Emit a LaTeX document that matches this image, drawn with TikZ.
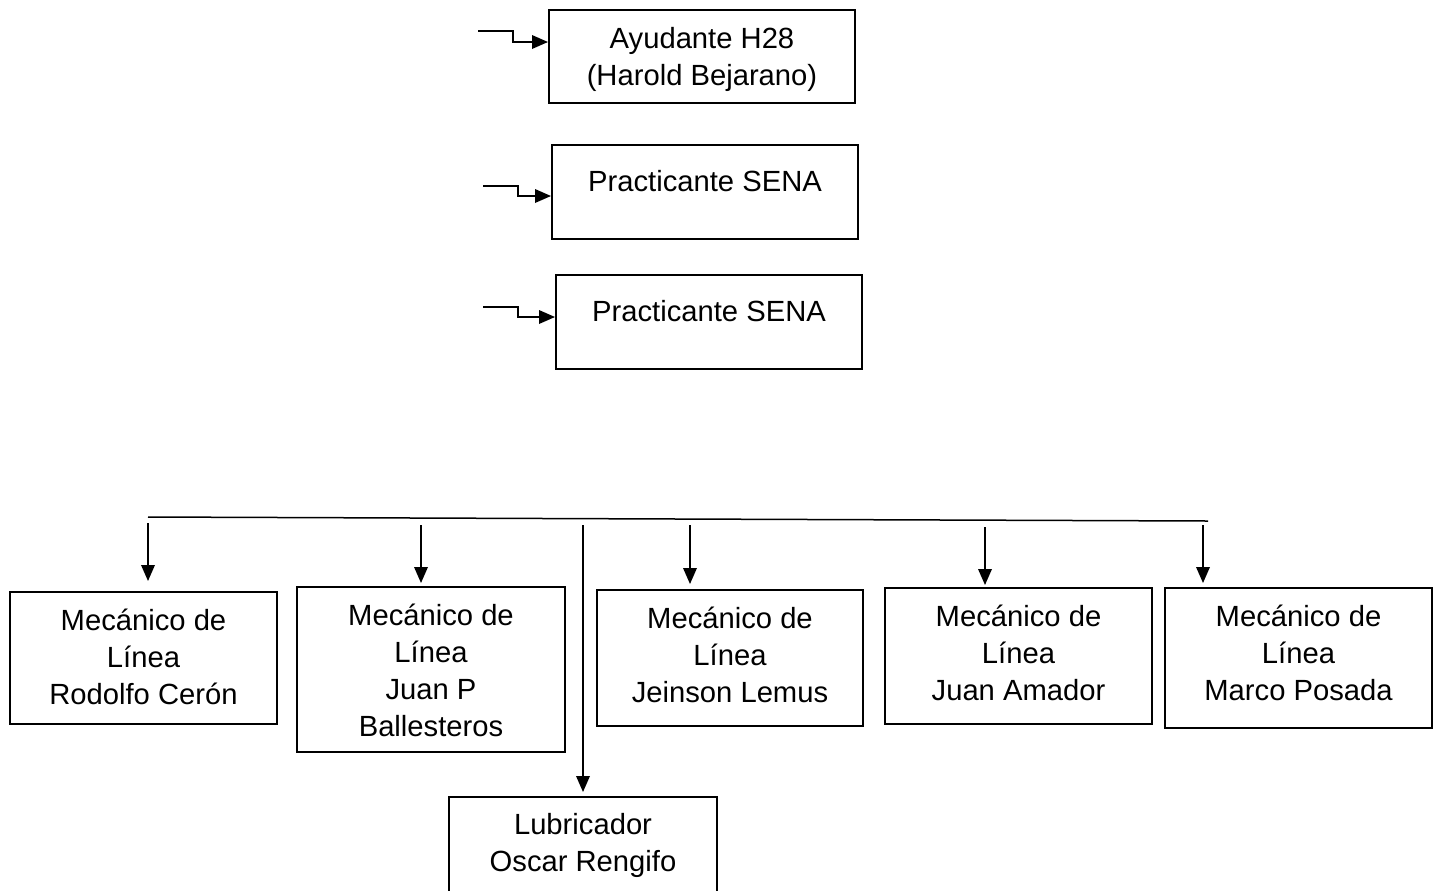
\documentclass[tikz,border=0pt]{standalone}
\usepackage{fontspec}
\setmainfont{Liberation Sans}
\usetikzlibrary{arrows.meta}
\begin{document}
\begin{tikzpicture}[x=0.5pt,y=-0.5pt,
  box/.style={draw,line width=1pt,rectangle,inner sep=0pt},
  lbl/.style={align=center,inner sep=0pt,font=\fontsize{14.6}{18.5}\selectfont},
  arr/.style={line width=0.75pt,-{Triangle[length=8pt,width=6.8pt]}},
  conn/.style={line width=0.75pt}]
\useasboundingbox (0,0) rectangle (1441,890);

% upper boxes
\node[box,minimum width=153pt,minimum height=46.5pt] (ayud) at (702,56.5) {};
\node[lbl] (tayud) at (702,59) {Ayudante H28\\(Harold Bejarano)};
\node[box,minimum width=153pt,minimum height=47pt] (pr1) at (705,192) {};
\node[lbl] (tpr1) at (705,181) {Practicante SENA};
\node[box,minimum width=153pt,minimum height=47pt] (pr2) at (709,322) {};
\node[lbl] (tpr2) at (709,311) {Practicante SENA};

% incoming stepped arrows
\coordinate (s1) at (478,31); \coordinate (k1) at (513,42);
\coordinate (s2) at (483,186); \coordinate (k2) at (518,196);
\coordinate (s3) at (483,307); \coordinate (k3) at (518,317);
\draw[arr] (s1) -| (k1) -- (k1 -| ayud.west);
\draw[arr] (s2) -| (k2) -- (k2 -| pr1.west);
\draw[arr] (s3) -| (k3) -- (k3 -| pr2.west);

% lower boxes
\node[box,minimum width=133.5pt,minimum height=66pt] (b1) at (143.5,658) {};
\node[lbl] (tb1) at (143.5,656.5) {Mecánico de\\Línea\\Rodolfo Cerón};
\node[box,minimum width=134pt,minimum height=82.5pt] (b2) at (431,669.5) {};
\node[lbl] (tb2) at (431,670) {Mecánico de\\Línea\\Juan P\\Ballesteros};
\node[box,minimum width=133pt,minimum height=68pt] (b3) at (730,658) {};
\node[lbl] (tb3) at (730,654.5) {Mecánico de\\Línea\\Jeinson Lemus};
\node[box,minimum width=133.5pt,minimum height=68pt] (b4) at (1018.5,656) {};
\node[lbl] (tb4) at (1018.5,652.5) {Mecánico de\\Línea\\Juan Amador};
\node[box,minimum width=133.5pt,minimum height=70pt] (b5) at (1298.5,658) {};
\node[lbl] (tb5) at (1298.5,652.5) {Mecánico de\\Línea\\Marco Posada};
\node[box,minimum width=134pt,minimum height=60pt] (lub) at (583,857) {};
\node[lbl] (tlub) at (583,845.5) {Lubricador\\Oscar Rengifo};

% distribution line and drops
\coordinate (hl) at (148,517); \coordinate (hr) at (1208,521);
\draw[conn] (hl) -- (hr);
\coordinate (d1) at (148,523);
\coordinate (d2) at (421,525);
\coordinate (dl) at (583,525);
\coordinate (d3) at (690,525);
\coordinate (d4) at (985,527);
\coordinate (d5) at (1203,525);
\draw[arr,shorten >=5pt] (d1) -- (d1 |- b1.north);
\draw[arr,shorten >=1.5pt] (d2) -- (d2 |- b2.north);
\draw[arr,shorten >=2pt] (dl) -- (dl |- lub.north);
\draw[arr,shorten >=2.5pt] (d3) -- (d3 |- b3.north);
\draw[arr,shorten >=1pt] (d4) -- (d4 |- b4.north);
\draw[arr,shorten >=2pt] (d5) -- (d5 |- b5.north);
\end{tikzpicture}
\end{document}
